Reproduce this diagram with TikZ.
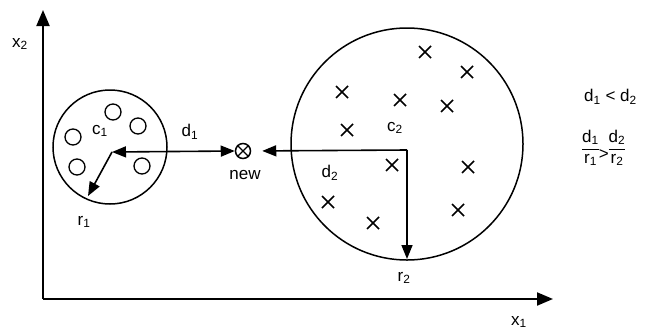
\documentclass[tikz,border=0pt]{standalone}
\usepackage{fontspec}
\setmainfont{Liberation Sans}
\usetikzlibrary{arrows.meta}
\tikzset{
  axisline/.style={line width=2pt,-{Triangle[length=16pt,width=13pt]}},
  vec/.style={line width=1.6pt,-{Triangle[length=14pt,width=11pt]}},
  dvec/.style={line width=1.6pt,{Triangle[length=14pt,width=11pt]}-{Triangle[length=14pt,width=11pt]}},
  cluster/.style={draw,circle,line width=1.5pt,inner sep=0pt},
  pt/.style={draw,circle,line width=1.3pt,minimum size=16pt,inner sep=0pt},
  lbl/.style={inner sep=1pt,font=\fontsize{17}{19}\selectfont},
  cross/.style={line width=1.6pt}
}
\newcommand{\sub}[2]{#1\textsubscript{#2}}
\newcommand{\myfrac}[2]{\begin{tabular}{@{}c@{}}#1\\[1pt]\hline\rule{0pt}{14pt}#2\end{tabular}}
\begin{document}
\begin{tikzpicture}[x=1pt,y=-1pt]
\useasboundingbox (0,0) rectangle (655,335);
% axes
\coordinate (O) at (43,299);
\coordinate (ytip) at (43,10);
\coordinate (xtip) at (553,299);
\draw[axisline] (O) -- (ytip);
\draw[axisline] (O) -- (xtip);
\node[lbl] (x2) at (20,44) {\sub{x}{2}};
\node[lbl] (x1) at (519,322) {\sub{x}{1}};
% cluster 1
\node[cluster,minimum size=114pt] (C1) at (110,147) {};
\coordinate (c1) at (112,152);
\coordinate (r1end) at (88,196);
\foreach \p/\q in {73/137,113/112,138/126,77/167,142/166}
  \node[pt] at (\p,\q) {};
\node[lbl] (c1l) at (100,131) {\sub{c}{1}};
% new point
\node[draw,circle,line width=1.5pt,minimum size=15pt,inner sep=0pt] (new) at (243,151) {};
\draw[line width=1.2pt] (new.north east) -- (new.south west) (new.north west) -- (new.south east);
\node[lbl] (newl) at (245,175) {new};
% d1 and r1
\draw[dvec] (c1) -- (new.west);
\draw[vec] (c1) -- (r1end);
\node[lbl] (d1l) at (190,132) {\sub{d}{1}};
\node[lbl] (r1l) at (84,222) {\sub{r}{1}};
% cluster 2
\node[cluster,minimum size=232pt] (C2) at (407,144) {};
\coordinate (c2) at (407,150);
\coordinate (r2end) at (407,259);
\foreach \p/\q in {425/52,467/72,342/92,400/100,447/106,347/130,392/165,468/167,328/202,373/223,458/210}
  \draw[cross] (\p-6,\q-6) -- (\p+6,\q+6) (\p-6,\q+6) -- (\p+6,\q-6);
\draw[vec,shorten >=11pt] (c2) -- (new.east);
\draw[vec] (c2) -- (r2end);
\node[lbl] (c2l) at (395,128) {\sub{c}{2}};
\node[lbl] (d2l) at (330,173) {\sub{d}{2}};
\node[lbl] (r2l) at (404,278) {\sub{r}{2}};
% inequalities
\node[lbl,anchor=west] (ineq1) at (583,97) {\sub{d}{1} < \sub{d}{2}};
\node[lbl,anchor=west,inner sep=0pt] (ineq2) at (582,149) {\myfrac{\sub{d}{1}}{\sub{r}{1}}\raisebox{-6pt}{>}\myfrac{\sub{d}{2}}{\sub{r}{2}}};
\end{tikzpicture}
\end{document}
